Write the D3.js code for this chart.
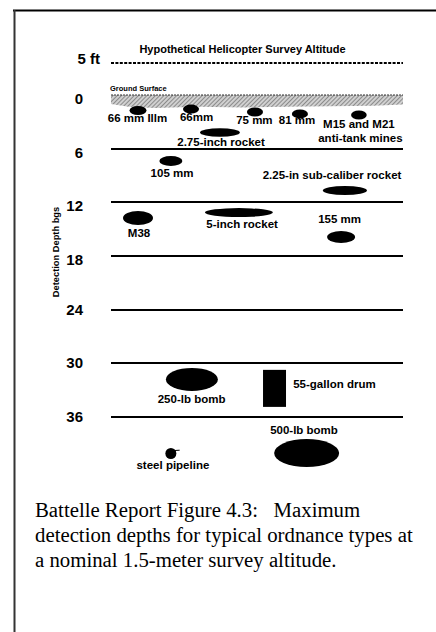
<!DOCTYPE html>
<html>
<head>
<meta charset="utf-8">
<script src="https://cdn.jsdelivr.net/npm/d3@7"></script>
<style>
  html, body { margin: 0; padding: 0; background: #fff; }
  svg { display: block; }
  .lbl { font-family: Arial, "Liberation Sans", sans-serif; font-weight: bold; fill: #000; }
  .cap { font-family: "Times New Roman", "Liberation Serif", serif; fill: #000; }
</style>
</head>
<body>
<svg id="chart" width="436" height="632"></svg>
<script>
// ---------- data ----------
const tickDepths = [-5, 0, 6, 12, 18, 24, 30, 36];
const tickLabels = ["5 ft", "0", "6", "12", "18", "24", "30", "36"];

const names = ["66 mm Illm", "66mm", "75 mm", "81 mm", "M15 and M21|anti-tank mines",
  "2.75-inch rocket", "105 mm", "2.25-in sub-caliber rocket", "M38", "5-inch rocket",
  "155 mm", "250-lb bomb", "55-gallon drum", "500-lb bomb", "steel pipeline"];
const shapes = ["ellipse", "ellipse", "ellipse", "ellipse", "ellipse", "ellipse", "ellipse",
  "ellipse", "ellipse", "ellipse", "ellipse", "ellipse", "drum", "ellipse", "pipe"];
// detection depth (ft below ground surface) and horizontal placement (% of panel width)
const depths = [1.73, 1.57, 1.90, 2.12, 2.24, 4.19, 7.38, 10.68, 13.75, 13.14, 15.88, 31.8, 32.8, 40.03, 40.08];
const across = [9.25, 27.4, 49.3, 64.7, 84.9, 37.3, 20.5, 80.1, 9.25, 43.8, 78.8, 27.7, 56.0, 67.0, 20.5];
// symbol length and diameter (ft, schematic)
const lengths = [1.9, 1.8, 1.8, 1.8, 1.75, 4.47, 2.57, 4.92, 3.35, 7.6, 3.13, 5.81, 2.57, 7.27, 1.23];
const diameters = [1.0, 1.0, 1.0, 1.0, 1.0, 0.95, 1.12, 1.0, 1.57, 1.0, 1.34, 2.57, 4.14, 3.13, 1.23];
// label placement (same units)
const labelAcross = [9.08, 29.3, 49.1, 63.7, 84.9, 37.7, 20.9, 75.7, 9.6, 44.9, 78.3, 27.6, 62.4, 66.1, 21.2];
const labelDepth = [3.02, 2.91, 3.24, 3.24, 3.69, 5.70, 9.17, 9.39, 15.88, 14.87, 14.31, 34.44, 32.77, 37.90, 41.82];
const labelAnchor = ["middle", "middle", "middle", "middle", "middle", "middle", "middle", "middle",
  "middle", "middle", "middle", "middle", "start", "middle", "middle"];

// irregular lower edge of ground-surface band
const groundAcross = [0, 6, 15, 30, 45, 60, 75, 90, 100];
const groundDepth = [1.0, 1.3, 1.45, 1.3, 1.4, 1.3, 1.25, 1.2, 1.05];

const titleText = "Hypothetical Helicopter Survey Altitude";
const groundText = "Ground Surface";
const yAxisTitle = "Detection Depth bgs";
const captionLines = ["Battelle Report Figure 4.3:\u00a0\u00a0 Maximum",
  "detection depths for typical ordnance types at",
  "a nominal 1.5-meter survey altitude."];

// ---------- drawing ----------
const svg = d3.select("#chart");
const x = d3.scaleLinear().domain([0, 100]).range([111, 403]);
const y = d3.scaleLinear().domain([-5, 0, 36]).range([63, 95, 417]);
const k = y(1) - y(0); // px per foot

// frame
svg.append("line").attr("x1", 13).attr("x2", 436).attr("y1", 10.5).attr("y2", 10.5)
  .attr("stroke", "#000").attr("stroke-width", 2);
svg.append("line").attr("x1", 14.5).attr("x2", 14.5).attr("y1", 10).attr("y2", 632)
  .attr("stroke", "#333").attr("stroke-width", 2);

// hatch pattern
const defs = svg.append("defs");
const pat = defs.append("pattern").attr("id", "hatch").attr("patternUnits", "userSpaceOnUse")
  .attr("width", 3).attr("height", 3).attr("patternTransform", "rotate(45)");
pat.append("rect").attr("width", 3).attr("height", 3).attr("fill", "#d0d0d0");
pat.append("line").attr("x1", 0).attr("x2", 0).attr("y1", 0).attr("y2", 3)
  .attr("stroke", "#7a7a7a").attr("stroke-width", 1.6);

// ground band
const bandPts = groundAcross.map((a, i) => [x(a), y(groundDepth[i])]);
const area = d3.area().x(d => d[0]).y0(y(0)).y1(d => d[1]).curve(d3.curveLinear);
svg.append("path").datum(bandPts).attr("d", area).attr("fill", "url(#hatch)");
svg.append("line").attr("x1", x(0)).attr("x2", x(100)).attr("y1", y(0)).attr("y2", y(0))
  .attr("stroke", "#333").attr("stroke-width", 1).attr("stroke-dasharray", "2,1");

// depth lines
svg.selectAll("line.depth").data(tickDepths.filter(d => d > 0)).enter().append("line")
  .attr("class", "depth")
  .attr("x1", x(0)).attr("x2", x(100))
  .attr("y1", d => Math.round(y(d))).attr("y2", d => Math.round(y(d)))
  .attr("stroke", "#000").attr("stroke-width", 2);

// altitude dashed line
svg.append("line").attr("x1", x(0)).attr("x2", x(100)).attr("y1", y(-5)).attr("y2", y(-5))
  .attr("stroke", "#000").attr("stroke-width", 2).attr("stroke-dasharray", "3,1.4");

// tick labels
svg.selectAll("text.tick").data(tickDepths).enter().append("text")
  .attr("class", "lbl tick")
  .attr("x", (d, i) => i === 0 ? 100 : 83)
  .attr("y", (d, i) => i === 0 ? y(d) + 1 : y(d) + 9 + (d > 18 ? -4 : 0))
  .attr("text-anchor", "end")
  .attr("font-size", 15)
  .text((d, i) => tickLabels[i]);

// title & ground text
svg.append("text").attr("class", "lbl").attr("x", 242.5).attr("y", 53)
  .attr("text-anchor", "middle").attr("font-size", 11).text(titleText);
svg.append("text").attr("class", "lbl").attr("x", 110).attr("y", 91)
  .attr("font-size", 7.5).text(groundText);

// y axis title
svg.append("text").attr("class", "lbl")
  .attr("transform", "translate(59,252) rotate(-90)")
  .attr("text-anchor", "middle").attr("font-size", 9.3).text(yAxisTitle);

// ordnance symbols
const items = names.map((n, i) => ({
  name: n, shape: shapes[i], depth: depths[i], across: across[i],
  len: lengths[i], dia: diameters[i],
  la: labelAcross[i], ld: labelDepth[i], anchor: labelAnchor[i]
}));

items.forEach(d => {
  const cx = x(d.across), cy = y(d.depth);
  if (d.shape === "drum") {
    svg.append("rect").attr("x", cx - d.len * k / 2).attr("y", cy - d.dia * k / 2)
      .attr("width", d.len * k).attr("height", d.dia * k).attr("fill", "#000");
  } else {
    svg.append("ellipse").attr("cx", cx).attr("cy", cy)
      .attr("rx", d.len * k / 2).attr("ry", d.dia * k / 2).attr("fill", "#000");
    if (d.shape === "pipe") {
      svg.append("line").attr("x1", cx).attr("x2", cx + d.len * k * 0.8)
        .attr("y1", cy - d.dia * k * 0.25).attr("y2", cy - d.dia * k * 0.3)
        .attr("stroke", "#000").attr("stroke-width", 1);
    }
  }
});

// labels
items.forEach(d => {
  const lines = d.name.split("|");
  const t = svg.append("text").attr("class", "lbl")
    .attr("x", x(d.la)).attr("y", y(d.ld))
    .attr("text-anchor", d.anchor).attr("font-size", 11.5);
  lines.forEach((ln, j) => {
    t.append("tspan").attr("x", x(d.la) + (j ? 1.5 : 0)).attr("dy", j ? 14 : 0).text(ln);
  });
});

// caption
svg.selectAll("text.cap").data(captionLines).enter().append("text")
  .attr("class", "cap")
  .attr("x", 35).attr("y", (d, i) => 517 + i * 25)
  .attr("font-size", 20.8)
  .text(d => d);
</script>
</body>
</html>
